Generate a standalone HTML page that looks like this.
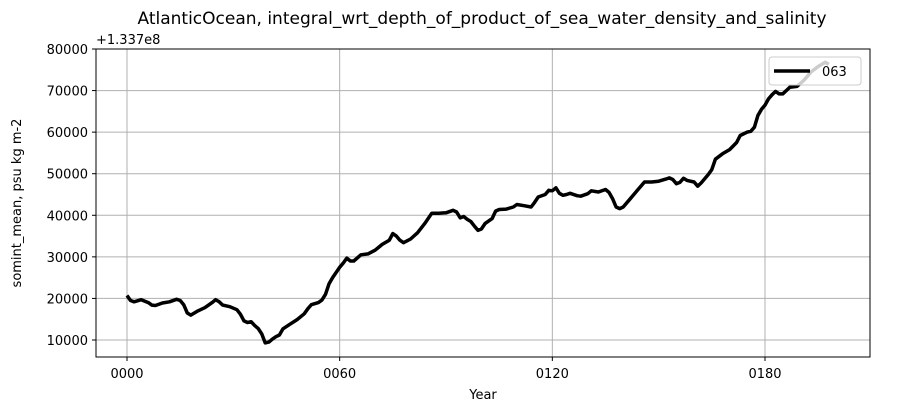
<!DOCTYPE html>
<html><head><meta charset="utf-8"><style>
body{margin:0;background:#fff}
svg{display:block;font-family:"DejaVu Sans","Liberation Sans",sans-serif}
</style></head><body>
<svg id="chart" width="899" height="412">
<text x="482" y="24" font-size="17" text-anchor="middle">AtlanticOcean, integral_wrt_depth_of_product_of_sea_water_density_and_salinity</text>
<text x="96" y="44" font-size="13">+1.337e8</text>
<g id="grid"></g>
<g id="ticks"></g>
<path id="line" fill="none" stroke="#000" stroke-width="3.5" stroke-linejoin="round"></path>
<rect x="96" y="49" width="774" height="308" fill="none" stroke="#000" stroke-width="1"/>
<text x="483" y="399" font-size="13" text-anchor="middle">Year</text>
<text transform="translate(21,203) rotate(-90)" font-size="13" text-anchor="middle">somint_mean, psu kg m-2</text>
<g>
<rect x="769" y="57" width="92" height="28" rx="3" fill="#fff" fill-opacity="0.8" stroke="#ccc"/>
<line x1="774" y1="71" x2="810" y2="71" stroke="#000" stroke-width="3.5"/>
<text x="822" y="76" font-size="13">063</text>
</g>
</svg>
<script>
const years=[0,1,2,4,6,7,8,10,12,14,15,16,17,18,20,22,24,25,26,27,29,31,32,33,34,35,36,37,38,39,40,41,42,43,44,46,48,50,51,52,54,55,56,57,58,60,61,62,63,64,66,68,70,72,74,75,76,77,78,80,82,84,86,88,90,92,93,94,95,96,97,98,99,100,101,103,104,105,107,109,110,112,114,115,116,118,119,120,121,122,123,124,125,127,128,130,131,133,135,136,137,138,139,140,142,144,146,148,150,152,153,154,155,156,157,158,160,161,162,164,165,166,168,170,172,173,175,176,177,178,179,180,181,182,183,184,185,186,187,189,191,193,195,197,198];
const values=[20700,19500,19200,19700,19000,18400,18300,18900,19200,19800,19500,18500,16500,16000,17000,17800,19000,19700,19200,18400,18000,17300,16200,14600,14200,14400,13500,12800,11500,9300,9500,10200,10800,11200,12700,13800,14900,16300,17500,18500,19000,19600,21000,23500,25000,27500,28500,29700,29000,29000,30500,30700,31600,33000,34000,35600,35000,34000,33400,34300,35800,38000,40500,40500,40600,41200,40800,39400,39700,39000,38500,37400,36400,36700,38000,39200,41000,41400,41500,42000,42600,42300,42000,43100,44400,45000,46000,45900,46600,45300,44800,45000,45300,44700,44600,45200,45900,45600,46200,45500,44000,42000,41600,42000,44000,46000,48000,48000,48200,48700,49000,48600,47600,47900,48900,48400,48000,47000,47800,49800,51000,53500,54800,55800,57500,59200,60000,60200,61200,64000,65500,66500,68000,69000,69800,69200,69200,70000,70800,71000,72500,74500,75800,76800,76300];
const xTicks=[0,60,120,180];
const xTickLabels=["0000","0060","0120","0180"];
const yTicks=[10000,20000,30000,40000,50000,60000,70000,80000];
const NS="http://www.w3.org/2000/svg";
const X=y=>127+(y-0)*(765-127)/180;
const Y=v=>340-(v-10000)*(340-49)/70000;
const grid=document.getElementById('grid'),ticks=document.getElementById('ticks');
function mk(tag,attrs,parent){const e=document.createElementNS(NS,tag);for(const k in attrs)e.setAttribute(k,attrs[k]);parent.appendChild(e);return e;}
xTicks.forEach((t,i)=>{
 const g=mk('line',{x1:X(t),x2:X(t),y1:49,y2:357,stroke:'#b0b0b0','stroke-width':1},grid);
 
 
 const tk=mk('line',{x1:X(t),x2:X(t),y1:357,y2:361,stroke:'#000'},ticks);
 
 
 const tx=mk('text',{x:X(t),y:378,'font-size':13,'text-anchor':'middle'},ticks);
 tx.textContent=xTickLabels[i];
 
 
});
yTicks.forEach(t=>{
 const g=mk('line',{x1:96,x2:870,y1:Y(t),y2:Y(t),stroke:'#b0b0b0','stroke-width':1},grid);
 
 
 const tk=mk('line',{x1:92,x2:96,y1:Y(t),y2:Y(t),stroke:'#000'},ticks);
 
 
 const tx=mk('text',{x:88,y:Y(t)+5,'font-size':13,'text-anchor':'end'},ticks);
 tx.textContent=String(t);
 
 
});
document.getElementById('line').setAttribute('d',years.map((y,i)=>(i?'L':'M')+X(y).toFixed(1)+','+Y(values[i]).toFixed(1)).join(''));
</script>
</body></html>
